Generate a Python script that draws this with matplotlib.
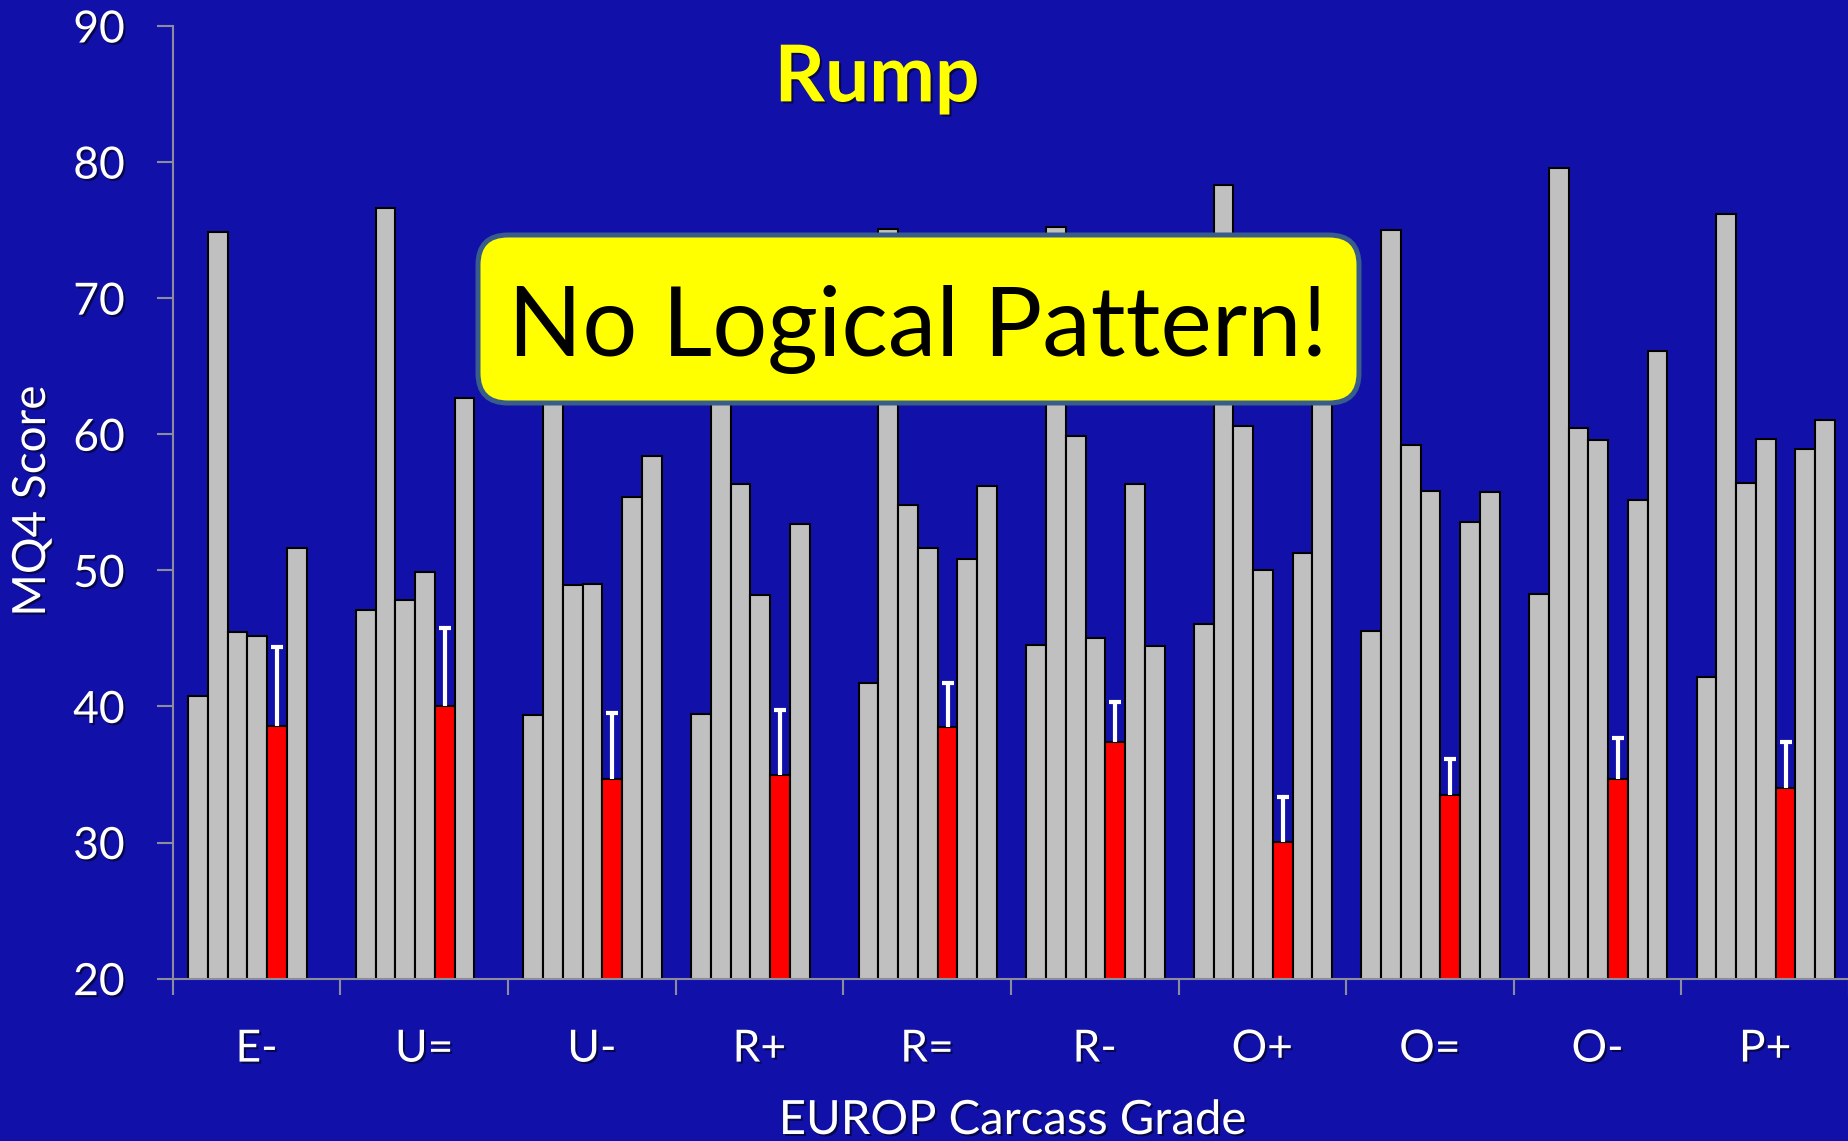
import numpy as np
import matplotlib
matplotlib.use('Agg')
import matplotlib.pyplot as plt
import matplotlib.patheffects as pe
from matplotlib.patches import FancyBboxPatch

# ---------------- data ----------------
grades = ['E-', 'U=', 'U-', 'R+', 'R=', 'R-', 'O+', 'O=', 'O-', 'P+']
nan = np.nan
series1 = [40.8, 47.1, 39.35, 39.46, 41.73, 44.5, 46.07, 45.52, 48.23, 42.15]
series2 = [74.87, 76.61, 70.0, 72.0, 75.09, 75.2, 78.3, 75.04, 79.54, 76.16]
series3 = [45.49, 47.81, 48.92, 56.36, 54.78, 59.9, 60.63, 59.23, 60.46, 56.41]
series4 = [45.19, 49.86, 49.0, 48.2, 51.63, 45.05, 50.0, 55.85, 59.56, 59.62]
red_mean = [38.58, 40.02, 34.65, 34.98, 38.52, 37.39, 30.04, 33.52, 34.65, 34.04]
red_err = [5.8, 5.72, 4.9, 4.76, 3.22, 2.95, 3.3, 2.6, 3.02, 3.38]
series6 = [51.66, 62.63, 55.4, 53.43, 50.8, 56.36, 51.28, 53.54, 55.2, 58.95]
series7 = [nan, nan, 58.38, nan, 56.19, 44.41, 66.0, 55.77, 66.12, 61.05]
yticks = [20, 30, 40, 50, 60, 70, 80, 90]

# ---------------- style ----------------
W, H = 1849, 1141
BG = '#1111AA'
GRAY = '#C0C0C0'
AXC = '#8C8C9C'
FONT = ['Lato', 'DejaVu Sans']
plt.rcParams['font.family'] = FONT
shadow = [pe.SimplePatchShadow(offset=(1.5, -1.5), shadow_rgbFace='black', alpha=0.55), pe.Normal()]

fig = plt.figure(figsize=(W / 100, H / 100), dpi=100)
fig.patch.set_facecolor(BG)

ax_left, ax_bottom_px, ax_top_px = 172.8, 978.6, 26.0
group_px = 168.0
ax = fig.add_axes([ax_left / W, (H - ax_bottom_px) / H, 1 - ax_left / W, (ax_bottom_px - ax_top_px) / H])
ax.set_facecolor(BG)

x = np.arange(len(grades))
bw = 19.8 / group_px
all_series = [series1, series2, series3, series4, red_mean, series6, series7]
for j, s in enumerate(all_series):
    pos = x + (j - 3) * bw + 0.004
    col = '#FF0000' if j == 4 else GRAY
    ax.bar(pos, s, width=bw, color=col, edgecolor='black', linewidth=1.5, zorder=2)
    if j == 4:
        red_pos = pos

rm = np.array(red_mean)
re = np.array(red_err)
ax.errorbar(red_pos, rm, yerr=[np.zeros_like(re), re], fmt='none', ecolor='white',
            elinewidth=3.0, capsize=0, zorder=3)
ax.plot(red_pos, rm + re, ls='none', marker='_', ms=9, mew=3.0, color='white', zorder=3)

ax.set_ylim(20, 90)
ax.set_xlim(-0.5, -0.5 + (W - ax_left) / group_px)
ax.set_yticks(yticks)
ax.set_yticklabels([str(v) for v in yticks])
ax.set_xticks(np.arange(-0.5, len(grades), 1.0))
ax.set_xticklabels([])
ax.set_xticks(x, minor=True)
ax.set_xticklabels(grades, minor=True)

for sp in ['top', 'right']:
    ax.spines[sp].set_visible(False)
for sp in ['left', 'bottom']:
    ax.spines[sp].set_color(AXC)
    ax.spines[sp].set_linewidth(1.5)

ax.tick_params(axis='y', direction='out', length=11.5, width=1.5, color=AXC,
               labelsize=32, labelcolor='white', pad=23)
ax.tick_params(axis='x', which='major', direction='out', length=11.5, width=1.5, color=AXC)
ax.tick_params(axis='x', which='minor', length=0, labelsize=32, labelcolor='white', pad=36)
for lab in ax.get_yticklabels() + ax.get_xticklabels(minor=True):
    lab.set_path_effects(shadow)

# axis labels
fig.text(32 / W, 1 - 501 / H, 'MQ4 Score', rotation=90, ha='center', va='center',
         fontsize=33, color='white', path_effects=shadow)
fig.text(1013 / W, 1 - 1134 / H, 'EUROP Carcass Grade', ha='center', va='baseline',
         fontsize=34, color='white', path_effects=shadow)

# title
fig.text(877 / W, 1 - 101.4 / H, 'Rump', ha='center', va='baseline', fontsize=56.5,
         fontweight='bold', color='#FFFF00', path_effects=shadow)

# callout box
ov = fig.add_axes([0, 0, 1, 1], zorder=5)
ov.set_xlim(0, W)
ov.set_ylim(H, 0)
ov.axis('off')
ov.patch.set_alpha(0)
box = FancyBboxPatch((478, 235), 881, 168, boxstyle='round,pad=0,rounding_size=30',
                     facecolor='#FFFF00', edgecolor='#385D8A', linewidth=3.6)
ov.add_patch(box)
ov.text(918, 356, 'No Logical Pattern!', ha='center', va='baseline', fontsize=70, color='black')

fig.savefig('out.png', dpi=100, facecolor=BG)
